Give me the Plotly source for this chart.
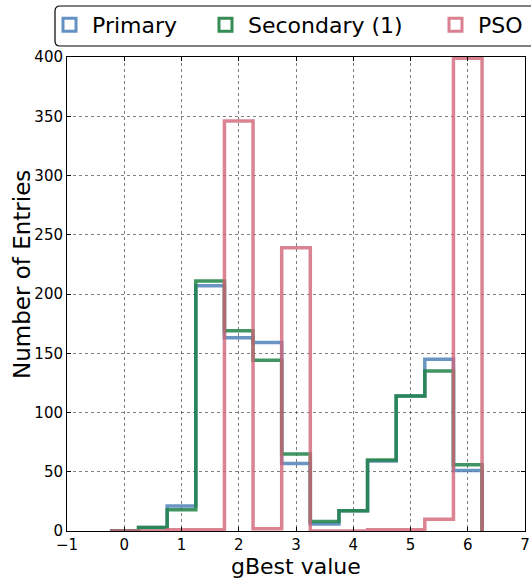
import plotly.graph_objects as go

# ---- data ----
bin_edges = [-0.25, 0.25, 0.75, 1.25, 1.75, 2.25, 2.75, 3.25, 3.75, 4.25, 4.75, 5.25, 5.75, 6.25]
primary_counts = [0, 3, 21, 207, 163, 159, 57, 6, 17, 59, 114, 145, 51]
secondary_counts = [0, 3, 18, 211, 169, 144, 65, 8, 17, 60, 114, 135, 56]
pso_counts = [0, 0, 1, 1, 346, 2, 239, 0, 0, 1, 1, 10, 399]
series_names = ["Primary", "Secondary (1)", "PSO"]
x_ticks = [-1, 0, 1, 2, 3, 4, 5, 6, 7]
y_ticks = [0, 50, 100, 150, 200, 250, 300, 350, 400]
x_title = "gBest value"
y_title = "Number of Entries"

colors = ["rgba(80,130,185,0.85)", "rgba(30,130,70,0.85)", "rgba(210,100,120,0.8)"]
legend_colors = ["rgb(100,145,195)", "rgb(55,140,85)", "rgb(218,128,145)"]

W, H = 531, 578
ML, MR, MT, MB = 67, 6, 57, 47
PW, PH = W - ML - MR, H - MT - MB


def px_x(p):
    return (p - ML) / PW


def px_y(p):
    return (H - MB - p) / PH


def step_xy(edges, counts):
    xs = [edges[0]] + edges[:-1] + [edges[-1]]
    ys = [0] + counts + [0]
    return xs, ys


fig = go.Figure()
for name, counts, col in zip(series_names, [primary_counts, secondary_counts, pso_counts], colors):
    xs, ys = step_xy(bin_edges, counts)
    fig.add_trace(go.Scatter(x=xs, y=ys, mode="lines", line=dict(shape="hv", color=col, width=3.5),
                             showlegend=False, hoverinfo="skip"))

legend_ids = ["legend", "legend2", "legend3"]
for name, col, lid in zip(series_names, legend_colors, legend_ids):
    fig.add_trace(go.Scatter(x=[None], y=[None], mode="markers", name=name, legend=lid,
                             marker=dict(symbol="square-open", size=13, color=col,
                                         line=dict(width=3, color=col))))

font = "DejaVu Sans"
leg_common = dict(orientation="h", yanchor="middle", xanchor="left", y=px_y(25),
                  bgcolor="rgba(0,0,0,0)", borderwidth=0, itemwidth=35,
                  font=dict(family=font, size=22, color="black"))
fig.update_layout(
    legend=dict(x=px_x(47), **leg_common),
    legend2=dict(x=px_x(203), **leg_common),
    legend3=dict(x=px_x(433), **leg_common),
)

# rounded legend frame
x0, x1, y0, y1, r = 55, 545, 6, 46, 5
def P(xp, yp):
    return f"{px_x(xp):.5f},{px_y(yp):.5f}"
path = (f"M {P(x0 + r, y0)} L {P(x1, y0)} L {P(x1, y1)} L {P(x0 + r, y1)} "
        f"Q {P(x0, y1)} {P(x0, y1 - r)} L {P(x0, y0 + r)} Q {P(x0, y0)} {P(x0 + r, y0)} Z")
fig.add_shape(type="path", path=path, xref="paper", yref="paper",
              line=dict(color="black", width=1.2), fillcolor="white", layer="above")

axis_common = dict(showline=True, linecolor="black", linewidth=1, mirror="ticks",
                   ticks="inside", ticklen=4, tickcolor="black",
                   showgrid=True, gridcolor="rgba(0,0,0,0.5)", griddash="dot", gridwidth=1,
                   zeroline=False, tickfont=dict(family=font, size=15, color="black"))
fig.update_xaxes(range=[-1, 7], tickvals=x_ticks, **axis_common)
fig.update_yaxes(range=[0, 400], tickvals=y_ticks, **axis_common)

# axis titles
fig.add_annotation(text=x_title, xref="paper", yref="paper", x=px_x(296), y=px_y(566),
                   xanchor="center", yanchor="middle", showarrow=False, borderpad=0,
                   font=dict(family=font, size=22, color="black"))
fig.add_annotation(text=y_title, xref="paper", yref="paper", x=px_x(22), y=px_y(275),
                   xanchor="center", yanchor="middle", showarrow=False, textangle=-90, borderpad=0,
                   font=dict(family=font, size=23, color="black"))

fig.update_layout(width=W, height=H, margin=dict(l=ML, r=MR, t=MT, b=MB, autoexpand=False),
                  plot_bgcolor="white", paper_bgcolor="white",
                  font=dict(family=font, color="black"))

fig.write_html("out.html")
